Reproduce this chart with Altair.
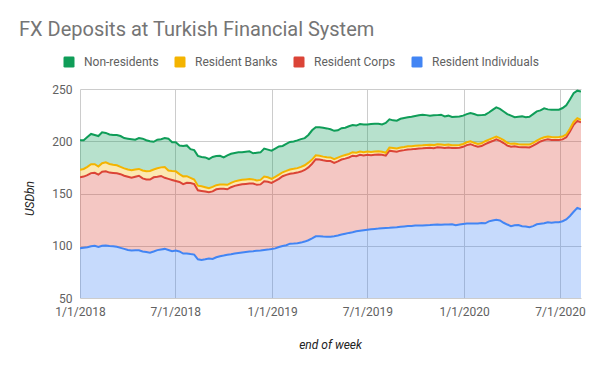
import altair as alt
import pandas as pd

# ---- data (stacked levels, USD bn, weekly) ----
first_week = "2018-01-01"
n_weeks = 137

level_individuals = [
    97.5, 98, 98.5, 99.5, 100, 98.8, 100, 100.2, 99.8, 99.6,
    99, 98, 97, 96, 95.5, 95.8, 95.7, 94.5, 94, 93.3,
    94.5, 95.8, 96.5, 97, 96, 94.8, 95.4, 94.5, 92.5, 92.6,
    92, 91.5, 87, 86.3, 87, 87.8, 87.3, 89, 90, 90.6,
    91.3, 91.8, 92.5, 93, 93.5, 94, 94.5, 94.8, 95.2, 95.5,
    96, 96.3, 96.8, 97.5, 98.8, 99.8, 100.5, 102, 102.2, 102.5,
    103, 104, 105.3, 107, 109, 109.2, 108.8, 108.5, 108.7, 109.1,
    109.8, 110.7, 111.5, 112.3, 112.9, 113.8, 114.3, 114.8, 115.3, 115.7,
    116.1, 116.4, 116.8, 117.1, 117.2, 117.5, 117.7, 118.2, 118.5, 118.8,
    119, 119.3, 119.4, 119.3, 119.6, 119.8, 120.2, 120.3, 120, 120.4,
    120.3, 120.6, 119.6, 120.3, 120.8, 121.2, 121.3, 121.4, 121.2, 121.8,
    121.5, 123.3, 124.2, 124.8, 124.2, 122, 120.3, 118.8, 119.6, 119.8,
    118.7, 118.5, 117.7, 118.8, 120.5, 121, 121.5, 122.5, 122, 122.5,
    122.6, 123.5, 125.2, 128.5, 132.5, 136.2, 134.8,
]

level_corps = [
    165.5, 166.2, 167.5, 169.5, 169.8, 168, 170.8, 171.2, 170, 169.7,
    169.3, 168.5, 167, 166, 165, 166, 167, 164.5, 163.5, 163.3,
    165.5, 166, 166.8, 165, 164, 163, 162, 161, 159, 160.2,
    160, 159, 153, 152.5, 152, 151.2, 152, 154, 154.6, 154.6,
    154, 156, 157.3, 158.2, 158.8, 159.2, 159.5, 159.6, 158.3, 158.7,
    161.7, 161.2, 160.2, 162, 164, 166.5, 167.8, 168.8, 169.3, 170,
    171, 172.5, 175, 178.5, 182.8, 182.5, 181.8, 181.2, 181, 179.3,
    180.8, 182.5, 183.4, 184.5, 186.2, 185.6, 187, 186.4, 187, 186.6,
    187, 187.2, 187, 186.2, 191, 190.5, 190, 191, 191.5, 192.2,
    192.3, 192.7, 193, 193.2, 193.6, 193.7, 193.4, 194.3, 194, 193.6,
    194, 193.5, 193.5, 193.8, 194.7, 196.3, 197.2, 195.8, 194.8, 195.4,
    197.3, 198.8, 200.2, 201.8, 200.3, 198.3, 195.8, 194.8, 195.1, 194.5,
    194.3, 194.3, 194.1, 195.8, 197.8, 199.8, 201.1, 201.8, 201.3, 201.1,
    201.3, 201.8, 203.8, 209.3, 215.8, 219.5, 218,
]

level_banks = [
    172.8, 173.5, 175.5, 178, 178, 175.8, 179, 179.8, 178.3, 177.6,
    177, 175.5, 174, 173, 172.2, 173, 173.5, 172, 171.2, 171.5,
    173, 174.2, 175, 175.4, 172, 171.5, 171.2, 168.5, 166.4, 166.6,
    165, 163.3, 157.5, 157, 156, 155, 156.3, 158, 158.5, 158.6,
    158.3, 160.2, 161.6, 162.5, 163.2, 163.5, 163.8, 163.5, 162.5, 163,
    166.2, 165.5, 164, 166, 168, 170.3, 171.6, 173, 173.6, 174.3,
    175.5, 177, 179.5, 182.5, 186.5, 186.2, 185.3, 184.6, 184.5, 182.8,
    184.3, 185.8, 186.8, 187.8, 189.5, 189, 190.2, 189.6, 190.2, 189.8,
    190.2, 190.4, 190, 189, 194, 193.6, 193, 194, 194.5, 195.2,
    195.2, 195.6, 196, 196.1, 196.5, 196.6, 196.3, 197.2, 196.8, 196.4,
    196.8, 196.2, 196.2, 196.5, 197.4, 199, 199.9, 198.5, 197.4, 198,
    200, 201.5, 203, 204.5, 203, 201, 198.5, 197.5, 197.8, 197.2,
    197, 197, 196.8, 198.5, 200.5, 202.5, 203.8, 204.5, 204, 203.8,
    204, 204.5, 206.5, 212, 218.5, 222, 220.5,
]

level_nonres = [
    201, 201, 204, 207, 206, 205, 208.5, 208, 206.5, 206,
    206, 205, 203, 202.5, 202, 201.5, 203, 202.5, 201, 200,
    199.5, 201.5, 202, 203, 202.5, 199, 199, 196, 195.5, 196,
    192.5, 191.5, 186, 185, 184.5, 183, 185, 185.8, 186, 184.5,
    186.5, 188, 188.8, 189.4, 189.5, 190, 190.4, 188.5, 189, 189.4,
    193, 192, 191, 193, 195, 195.5, 197.5, 199.3, 199.8, 200.8,
    202, 203, 206, 210.5, 213.5, 213.5, 213, 212.3, 211.5, 210,
    210.5, 212.5, 213, 214.3, 215.5, 215, 216.5, 216, 216, 216.5,
    216.8, 216.8, 216, 217.5, 221, 220, 219.7, 221.5, 222.3, 222.9,
    223.5, 224.2, 224.8, 225.4, 225, 224.5, 224.8, 225, 225.4, 223.8,
    224.5, 223.2, 223.4, 223.6, 224.5, 226, 227, 226.1, 224.8, 225,
    225.4, 227.5, 230, 232.4, 231, 228.5, 226, 224.5, 223, 223.5,
    223.8, 222.9, 223.5, 226, 228.6, 229.5, 231.5, 230.5, 230.2, 230.2,
    230.2, 231.8, 234.5, 240, 246, 248.4, 247.5,
]

series_names = ["Non-residents", "Resident Banks", "Resident Corps", "Resident Individuals"]
series_colors = ["#0f9d58", "#f4b400", "#db4437", "#4285f4"]
y_ticks = [50, 100, 150, 200, 250]
x_ticks = [(2018, 1), (2018, 7), (2019, 1), (2019, 7), (2020, 1), (2020, 7)]

# ---- table ----
dates = pd.date_range(first_week, periods=n_weeks, freq="7D").strftime("%Y-%m-%d")
zeros = [0] * n_weeks
bands = {
    "Resident Individuals": (zeros, level_individuals),
    "Resident Corps": (level_individuals, level_corps),
    "Resident Banks": (level_corps, level_banks),
    "Non-residents": (level_banks, level_nonres),
}
rows = []
for name, (low, high) in bands.items():
    for d, lo, hi in zip(dates, low, high):
        rows.append({"date": d, "series": name, "low": lo, "high": hi})
df = pd.DataFrame(rows)

last = pd.Timestamp(dates[-1])
x_scale = alt.Scale(
    type="utc",
    domain=[alt.DateTime(year=2018, month=1, date=1, utc=True),
            alt.DateTime(year=last.year, month=last.month, date=last.day, utc=True)],
)
x_enc = alt.X(
    "date:T",
    scale=x_scale,
    axis=alt.Axis(
        values=[alt.DateTime(year=y, month=m, date=1, utc=True) for y, m in x_ticks],
        labelExpr="utcFormat(datum.value, '%-m/%-d/%Y')",
        title="end of week",
        titleX=250,
        titleY=46,
        titleAlign="center",
        titleBaseline="middle",
        labelPadding=8,
        labelFlush=False,
        labelOverlap=False,
    ),
)
y_enc = alt.Y(
    "high:Q",
    scale=alt.Scale(domain=[50, 250], nice=False, zero=False),
    axis=alt.Axis(
        values=y_ticks,
        title="USDbn",
        titleX=-51,
        titleY=109,
        titleAngle=-90,
        titleAlign="center",
        titleBaseline="middle",
        labelPadding=8,
    ),
)

base = alt.Chart(df)
areas = base.mark_area(opacity=0.3, clip=True, interpolate="linear").encode(
    x=x_enc,
    y=y_enc,
    y2="low:Q",
    color=alt.Color(
        "series:N",
        scale=alt.Scale(domain=series_names, range=series_colors),
        legend=alt.Legend(
            title=None,
            orient="none",
            direction="horizontal",
            legendX=-17,
            legendY=-33,
            symbolType="M-0.75,-1L0.75,-1Q1,-1 1,-0.75L1,0.75Q1,1 0.75,1L-0.75,1Q-1,1 -1,0.75L-1,-0.75Q-1,-1 -0.75,-1Z",
            symbolSize=121,
            symbolOpacity=1,
            symbolStrokeWidth=0,
            symbolOffset=0,
            labelOffset=9,
            columnPadding=15,
            padding=0,
            labelFont="Roboto",
            labelFontSize=12,
            labelColor="#616161",
        ),
    ),
)

lines = []
for name, color in zip(reversed(series_names), reversed(series_colors)):
    lines.append(
        base.transform_filter(alt.datum.series == name)
        .mark_line(strokeWidth=2, clip=True, color=color)
        .encode(x=x_enc, y=y_enc)
    )

chart = (
    alt.layer(areas, *lines)
    .properties(
        width=501,
        height=209,
        title=alt.TitleParams(
            "FX Deposits at Turkish Financial System",
            anchor="start",
            frame="group",
            dx=-61,
            dy=19,
            font="Roboto",
            fontSize=20,
            fontWeight="normal",
            color="#757575",
            baseline="alphabetic",
            offset=19,
        ),
        autosize=alt.AutoSizeParams(type="none"),
        padding={"left": 72, "top": 81, "right": 11, "bottom": 65},
        background="white",
    )
    .configure_view(stroke=None)
    .configure_axis(
        labelFont="Roboto",
        labelFontSize=12,
        labelColor="#616161",
        titleFont="Roboto",
        titleFontSize=12,
        titleFontStyle="italic",
        titleFontWeight="normal",
        titleColor="#222222",
        gridColor="#cccccc",
        gridOpacity=1,
        domain=False,
        ticks=False,
    )
)

chart.save("out.html", embed_options={"renderer": "svg", "actions": False})
